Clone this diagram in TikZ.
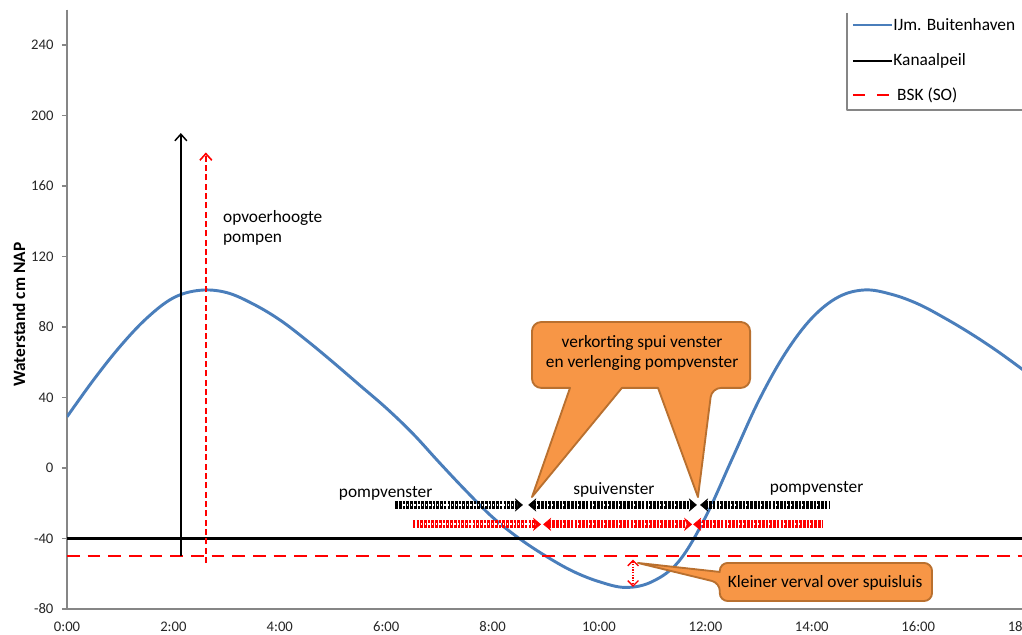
\documentclass[tikz,border=0pt]{standalone}
\usepackage{fontspec}
\setmainfont{Carlito}
\usetikzlibrary{arrows.meta}

\definecolor{tideblue}{HTML}{4A7EBB}
\definecolor{axisgray}{HTML}{868686}
\definecolor{bskred}{HTML}{FF0000}
\definecolor{calloutfill}{HTML}{F79646}
\definecolor{calloutedge}{HTML}{B9702F}
\definecolor{ticktext}{HTML}{262626}

\tikzset{
  axisline/.style={draw=axisgray, line width=1pt},
  tide/.style={draw=tideblue, line width=2.2pt},
  kanaal/.style={draw=black, line width=2pt},
  bsk/.style={draw=bskred, line width=2pt, dash pattern=on 9.5pt off 6pt},
  band/.style={draw=#1, line width=6pt, dash pattern=on 2pt off 0.8pt,
    arrows={-{Stealth[length=6pt,width=10pt,line width=0.4pt]}},
    postaction={draw=white, line width=1.6pt, dash pattern=on 1pt off 1.8pt,
      arrows=-, shorten <=6pt, shorten >=6pt}},
  callout/.style={fill=calloutfill, draw=calloutedge, line width=1.4pt, line join=round},
  lbl/.style={font=\fontsize{13}{15}\selectfont, inner sep=0pt},
  ticklbl/.style={font=\fontsize{11}{13}\selectfont, text=ticktext, inner sep=0pt},
}

\begin{document}
\begin{tikzpicture}[line cap=butt, line join=round, x=39.9pt, y=1.32187pt]
\useasboundingbox (-1.2594,-94.75) rectangle (17.951,265.5);

% axes
\draw[axisline] (0,260) -- (0,-80) -- (17.951,-80);
\foreach \v in {-80,-40,...,240}{
  \draw[axisline] (-0.094,\v) -- (0,\v);
  \node[ticklbl, anchor=east] (ty\v) at (-0.25,\v) {\v};
}
\foreach \h in {0,2,...,18}
  \node[ticklbl] (tx\h) at (\h,-90.2) {\h:00};
\node[font=\fontsize{13}{15}\selectfont\bfseries, rotate=90] (ylab) at (-0.9,87) {Waterstand cm NAP};

% getij
\begin{scope}
\clip (0,-94.75) rectangle (17.951,265.5);
\draw[tide] plot[smooth, tension=0.6] coordinates {
  (0,29) (0.5,50) (1,69) (1.5,85) (2,96.5) (2.5,100.8) (3,99.5) (3.5,93) (4,84)
  (4.5,72.5) (5,60) (5.5,47) (6,34) (6.5,19.5) (7,3) (7.5,-13) (8,-28)
  (8.5,-40) (9,-50) (9.5,-58.5) (10,-64.5) (10.5,-67.8) (11,-64.5) (11.5,-53)
  (12,-28) (12.5,5) (13,38) (13.5,65) (14,85) (14.5,97) (15,101)
  (15.5,98.5) (16,93) (16.5,85) (17,76) (17.5,66) (18,55)};
\end{scope}

% peilen
\draw[kanaal] (0,-40) -- (17.951,-40);
\draw[bsk] (0,-50) -- (17.951,-50);

% opvoerhoogte
\coordinate (zw0) at (2.14,-50);
\coordinate (zw1) at (2.14,190);
\coordinate (rd0) at (2.61,-54);
\coordinate (rd1) at (2.61,179);
\draw[black, line width=1.1pt, -{Straight Barb[length=5pt,width=9pt]}] (zw0) -- (zw1);
\draw[bskred, line width=1.2pt, dash pattern=on 4.5pt off 2.5pt,
  -{Straight Barb[length=5pt,width=9pt]}] (rd0) -- (rd1);
\node[lbl, anchor=west, align=left] (opv) at (2.93,136.3) {opvoerhoogte\\pompen};

% vensters
\coordinate (z1) at (6.17,-21);  \coordinate (z2) at (8.57,-21);
\coordinate (z3) at (8.67,-21);  \coordinate (z4) at (11.84,-21);
\coordinate (z5) at (11.90,-21); \coordinate (z6) at (14.34,-21);
\coordinate (r1) at (6.50,-32);  \coordinate (r2) at (8.91,-32);
\coordinate (r3) at (8.95,-32);  \coordinate (r4) at (11.75,-32);
\coordinate (r5) at (11.77,-32); \coordinate (r6) at (14.19,-32);
\draw[band=black] (z1) -- (z2);
\draw[band=black, arrows={{Stealth[length=6pt,width=10pt,line width=0.4pt]}-{Stealth[length=6pt,width=10pt,line width=0.4pt]}}] (z3) -- (z4);
\draw[band=black, arrows={{Stealth[length=6pt,width=10pt,line width=0.4pt]}-}] (z5) -- (z6);
\draw[band=bskred] (r1) -- (r2);
\draw[band=bskred, arrows={{Stealth[length=6pt,width=10pt,line width=0.4pt]}-{Stealth[length=6pt,width=10pt,line width=0.4pt]}}] (r3) -- (r4);
\draw[band=bskred, arrows={{Stealth[length=6pt,width=10pt,line width=0.4pt]}-}] (r5) -- (r6);
\node[lbl] (pv1) at (5.99,-14.2) {pompvenster};
\node[lbl] (sv) at (10.28,-12.5) {spuivenster};
\node[lbl] (pv2) at (14.09,-11.4) {pompvenster};

% callout verkorting
\filldraw[callout] (8.74,64) [rounded corners=7pt] -- (8.74,82.8) -- (12.84,82.8)
  -- (12.84,45.4) -- (12.12,45.4) [sharp corners] -- (11.86,-16.5) -- (11.11,45.4)
  -- (10.43,45.4) -- (8.74,-16.5) -- (9.455,45.4) [rounded corners=7pt] -- (8.74,45.4) -- cycle;
\node[lbl, align=center] (verk) at (10.81,65.2) {verkorting spui venster\\en verlenging pompvenster};

% verval
\coordinate (vv0) at (10.64,-52);
\coordinate (vv1) at (10.64,-67.5);
\draw[bskred, line width=1pt, densely dotted,
  {Straight Barb[length=4pt,width=8pt]}-{Straight Barb[length=4pt,width=8pt]}] (vv0) -- (vv1);
\filldraw[callout] (12.27,-59) [rounded corners=6pt] -- (12.27,-53.9) -- (16.26,-53.9)
  -- (16.26,-75.5) -- (12.27,-75.5) -- (12.27,-65.2) [sharp corners] -- (10.73,-53.9) -- cycle;
\node[lbl] (klv) at (14.25,-65.2) {Kleiner verval over spuisluis};

% legenda
\draw[axisline] (14.66,258.2) -- (14.66,203.1) -- (17.951,203.1);
\draw[tide] (14.77,251.3) -- (15.51,251.3);
\draw[kanaal] (14.77,230.9) -- (15.51,230.9);
\draw[bsk, dash pattern=on 9pt off 9pt] (14.77,211.6) -- (15.51,211.6);
\node[lbl, anchor=west] (lg1) at (15.53,251.3) {IJm. Buitenhaven};
\node[lbl, anchor=west] (lg2) at (15.53,230.9) {Kanaalpeil};
\node[lbl, anchor=west] (lg3) at (15.60,211.6) {BSK (SO)};
\end{tikzpicture}
\end{document}
